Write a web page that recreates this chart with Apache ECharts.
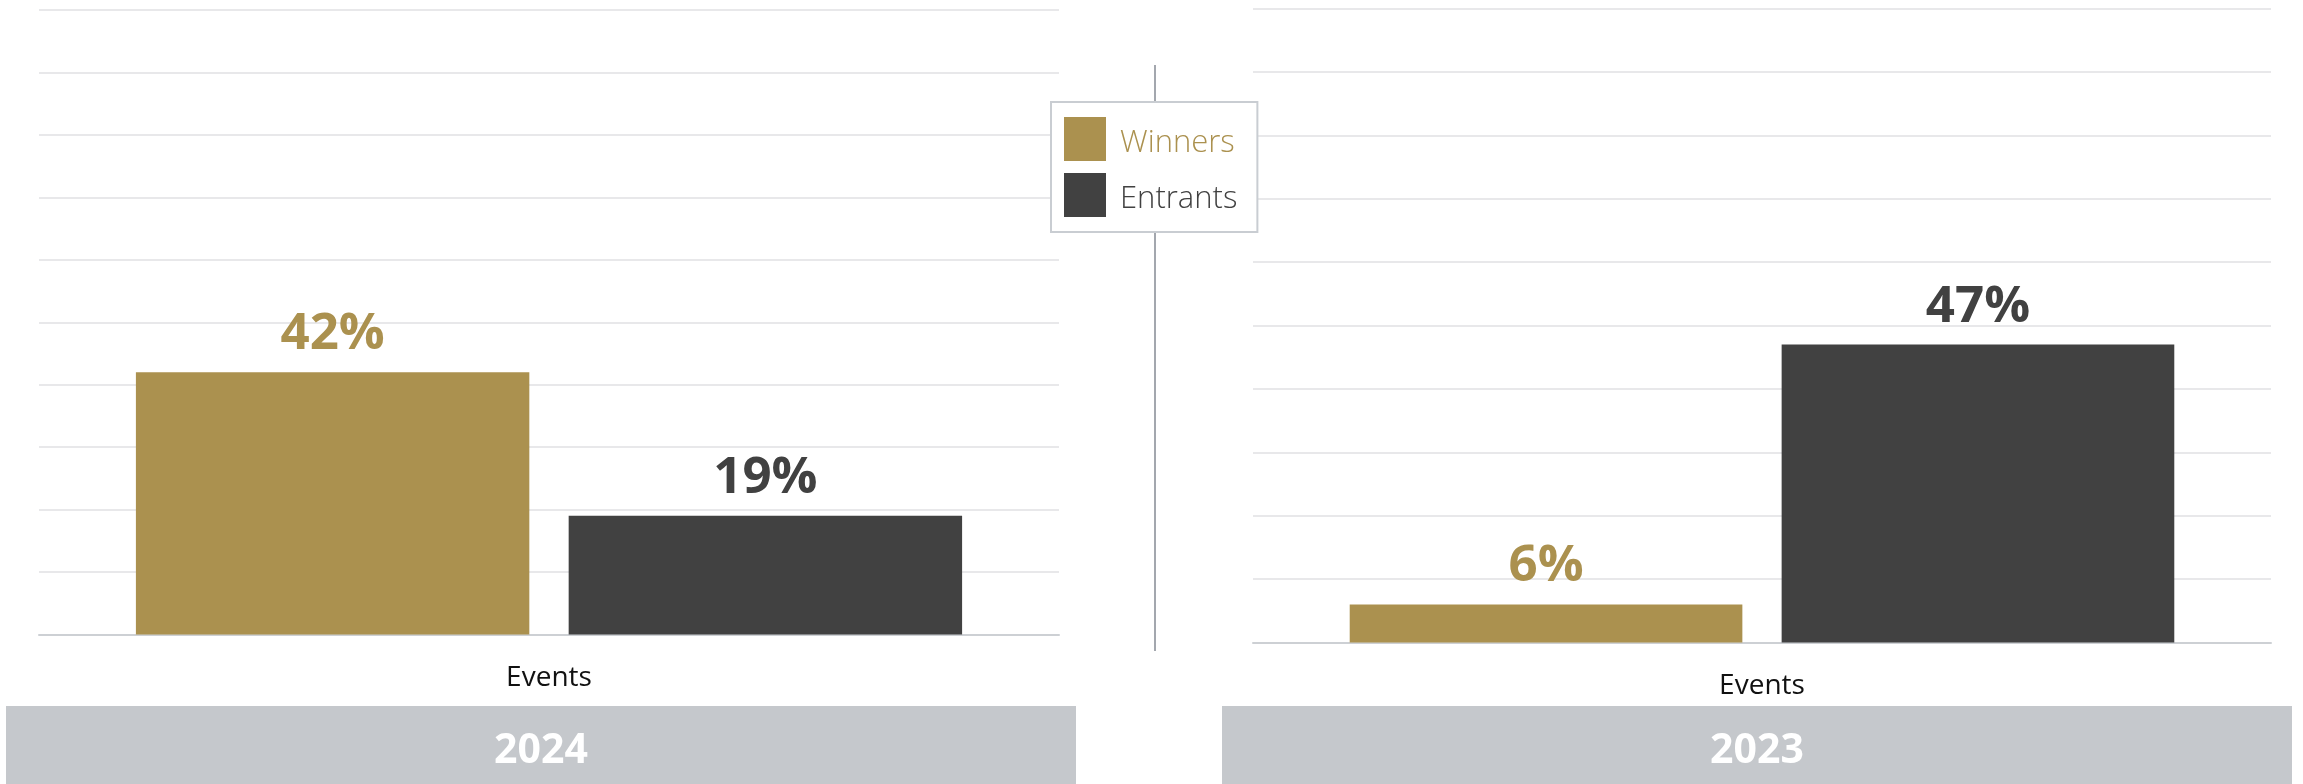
<!DOCTYPE html>
<html>
<head>
<meta charset="utf-8">
<style>
  html, body { margin: 0; padding: 0; background: #ffffff; }
  #chart { width: 2303px; height: 784px; }
</style>
<script src="https://cdn.jsdelivr.net/npm/echarts@6/dist/echarts.min.js"></script>
</head>
<body>
<div id="chart"></div>
<script>
// Share of events: winners vs entrants, per year
const categories = ['Events'];
const years = ['2024', '2023'];
const winners2024 = [42];
const entrants2024 = [19];
const winners2023 = [6];
const entrants2023 = [47];
const seriesNames = ['Winners', 'Entrants'];

const GOLD = '#ab914f';
const DARK = '#414141';
const GRID_LINE = '#e8e8ea';
const AXIS_LINE = '#cdd0d4';
const BAND = '#c5c8cc';

const chart = echarts.init(document.getElementById('chart'), null, { renderer: 'canvas' });

function valueAxis(gridIndex) {
  return {
    type: 'value', gridIndex: gridIndex, min: 0, max: 100, interval: 10,
    axisLabel: { show: false }, axisLine: { show: false }, axisTick: { show: false },
    splitLine: { show: true, lineStyle: { color: GRID_LINE, width: 2 } }
  };
}
function categoryAxis(gridIndex) {
  return {
    type: 'category', gridIndex: gridIndex, data: categories,
    axisLine: { show: true, lineStyle: { color: AXIS_LINE, width: 2 } },
    axisTick: { show: false },
    axisLabel: { color: '#111111', fontSize: 28, fontFamily: 'Open Sans', margin: 30 }
  };
}
function barSeries(name, data, color, idx) {
  return {
    name: name, type: 'bar', xAxisIndex: idx, yAxisIndex: idx, data: data,
    barGap: '10%', barCategoryGap: '19%',
    itemStyle: { color: color },
    label: {
      show: true, position: 'top', distance: 12,
      formatter: '{c}%', color: color, fontSize: 51, fontWeight: 'bold',
      fontFamily: 'Open Sans'
    }
  };
}

function yearBand(x, width, text) {
  return {
    type: 'group', left: x, top: 706,
    children: [
      { type: 'rect', shape: { x: 0, y: 0, width: width, height: 78 }, style: { fill: BAND } },
      {
        type: 'text', x: width / 2, y: 45,
        style: {
          text: text, fill: '#ffffff', font: 'bold 41px "Open Sans"',
          textAlign: 'center', textVerticalAlign: 'middle'
        }
      }
    ]
  };
}

// legend entry text, nudged down a little so the caps sit centred on the swatch
function legendEntry(name, color) {
  return {
    name: name,
    textStyle: {
      rich: {
        t: { color: color, fontSize: 31, fontWeight: 300, fontFamily: 'Open Sans', padding: [9, 0, 0, 9] }
      }
    }
  };
}

chart.setOption({
  animation: false,
  backgroundColor: '#ffffff',
  grid: [
    { left: 39, right: 1244, top: 10, bottom: 149.5 },
    { left: 1253, right: 32, top: 8.5, bottom: 141.5 }
  ],
  xAxis: [categoryAxis(0), categoryAxis(1)],
  yAxis: [valueAxis(0), valueAxis(1)],
  legend: {
    left: 1051, top: 102, orient: 'vertical',
    backgroundColor: '#ffffff', borderColor: '#c9cdd2', borderWidth: 2,
    padding: [15, 20, 15, 13], itemGap: 12,
    itemWidth: 42, itemHeight: 44, icon: 'rect',
    formatter: '{t|{name}}',
    data: [legendEntry(seriesNames[0], GOLD), legendEntry(seriesNames[1], DARK)],
    selectedMode: false, z: 10
  },
  graphic: [
    {
      type: 'line', z: 1,
      shape: { x1: 1155, y1: 65, x2: 1155, y2: 651 },
      style: { stroke: '#a3a7ae', lineWidth: 2 }
    },
    yearBand(6, 1070, years[0]),
    yearBand(1222, 1070, years[1])
  ],
  series: [
    barSeries(seriesNames[0], winners2024, GOLD, 0),
    barSeries(seriesNames[1], entrants2024, DARK, 0),
    barSeries(seriesNames[0], winners2023, GOLD, 1),
    barSeries(seriesNames[1], entrants2023, DARK, 1)
  ]
});
</script>
</body>
</html>
